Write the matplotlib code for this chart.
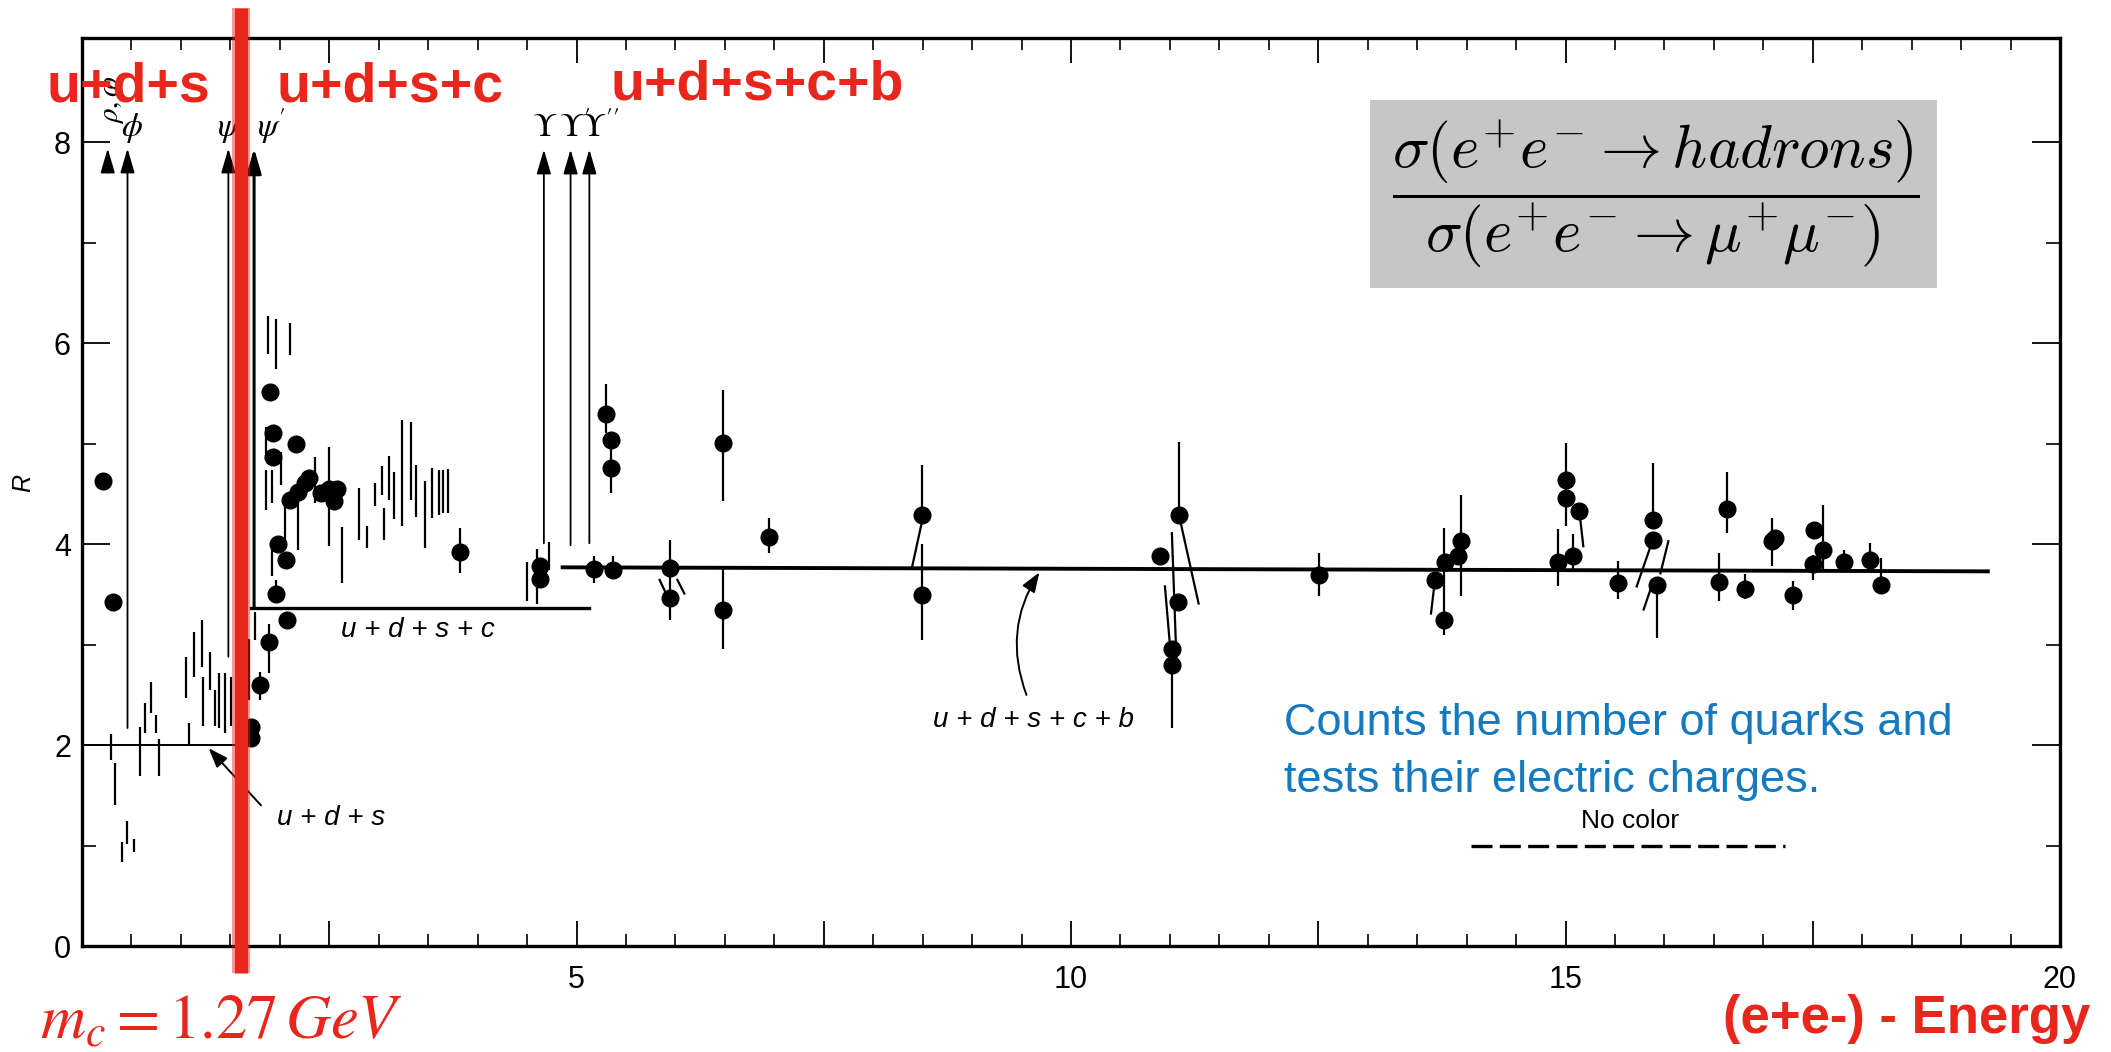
import numpy as np
import matplotlib
matplotlib.use("Agg")
import matplotlib.pyplot as plt
from matplotlib.patches import Rectangle

W, H, DPI = 2111, 1052, 100
plt.rcParams['font.family'] = ['Liberation Sans', 'DejaVu Sans']

# ---------------- data ----------------
# quark-parton plateaus (energy span, R level)
uds_E = [0.0, 1.57]
uds_R = [2.0, 2.0]
udsc_E = [1.71, 5.13]
udsc_R = [3.37, 3.37]
udscb_E = [4.86, 19.27]
udscb_R = [3.77, 3.73]
nocolor_E = [14.04, 17.22]
nocolor_R = [1.0, 1.0]

# narrow resonances: energy, foot and tip of the arrow
res_names = ['rho_omega', 'phi', 'psi', 'psi2', 'ups', 'ups2', 'ups3']
res_E = [0.26, 0.46, 1.48, 1.74, 4.67, 4.94, 5.13]
res_foot = [7.70, 2.17, 2.88, 3.37, 4.01, 3.99, 4.01]
res_tip = [7.94, 7.94, 7.94, 7.94, 7.93, 7.93, 7.93]

# charm threshold marker (beam energy)
charm_E = 1.61

# measured points: energy, R, lower / upper end of the error bar (nan = none)
nan = np.nan
dot_E = [0.21, 0.31, 1.71, 1.71, 1.80, 1.89, 1.96, 2.07, 1.98, 2.06,
         1.90, 1.93, 1.93, 2.16, 2.10, 2.18, 2.25, 2.30, 2.42, 2.50,
         2.58, 2.55, 3.82, 4.63, 4.63, 5.18, 5.37, 5.30, 5.35, 5.35,
         5.95, 5.95, 6.48, 6.48, 6.95, 8.49, 8.49, 10.90, 11.09, 11.08,
         11.02, 11.02, 12.51, 13.68, 13.77, 13.78, 13.91, 13.94, 14.92, 15.08,
         15.01, 15.01, 15.14, 15.53, 15.88, 15.88, 15.93, 16.63, 16.55, 16.82,
         17.09, 17.12, 17.30, 17.51, 17.60, 17.50, 17.82, 18.08, 18.19]
dot_R = [4.63, 3.42, 2.18, 2.07, 2.60, 3.03, 3.50, 3.25, 4.00, 3.84,
         5.52, 5.11, 4.87, 5.00, 4.44, 4.52, 4.61, 4.66, 4.51, 4.55,
         4.55, 4.43, 3.92, 3.78, 3.65, 3.755, 3.74, 5.30, 5.04, 4.76,
         3.76, 3.46, 5.01, 3.35, 4.07, 4.29, 3.49, 3.88, 4.29, 3.42,
         2.96, 2.80, 3.69, 3.645, 3.25, 3.82, 3.88, 4.03, 3.82, 3.88,
         4.64, 4.46, 4.33, 3.61, 4.24, 4.04, 3.59, 4.35, 3.62, 3.55,
         4.03, 4.06, 3.49, 4.14, 3.94, 3.80, 3.82, 3.84, 3.59]
dot_lo = [nan, nan, nan, nan, 2.45, 2.72, 3.41, nan, nan, nan,
          nan, nan, nan, nan, nan, nan, nan, nan, nan, nan,
          nan, nan, 3.71, nan, nan, 3.61, 3.65, 5.11, nan, 4.51,
          3.61, 3.25, 4.43, 2.96, 3.91, 4.29, 3.05, nan, 4.29, nan,
          nan, 2.17, 3.48, nan, 3.10, nan, nan, 3.48, 3.58, 3.73,
          4.18, nan, nan, 3.45, 4.24, nan, 3.07, 4.11, 3.43, 3.45,
          3.78, nan, 3.35, nan, 3.73, 3.64, 3.73, 3.78, 3.58]
dot_hi = [nan, nan, nan, nan, 2.73, 3.21, 3.64, nan, nan, nan,
          nan, nan, nan, nan, nan, nan, nan, nan, nan, nan,
          nan, nan, 4.16, nan, nan, 3.88, 3.88, 5.60, nan, 5.01,
          4.04, 3.61, 5.54, 3.76, 4.26, 4.79, 4.00, nan, 5.02, nan,
          nan, 2.80, 3.91, nan, 4.16, nan, nan, 4.49, 4.15, 4.10,
          5.01, nan, nan, 3.83, 4.81, nan, 3.59, 4.72, 3.91, 3.70,
          4.26, nan, 3.63, nan, 4.39, 3.89, 3.94, 4.01, 3.86]

# error bars drawn without a central point
bar_E = [0.29, 0.33, 0.40, 0.46, 0.53, 0.585, 0.64, 0.70, 0.75, 0.78,
         1.05, 1.08, 1.13, 1.21, 1.22, 1.29, 1.34, 1.39, 1.45, 1.51,
         1.69, 1.75, 1.92, 1.86,
         1.88, 1.96, 2.10, 1.86, 1.92, 2.01, 2.05, 2.18, 2.36, 2.50,
         2.63, 2.80, 2.88, 2.96, 3.03, 3.05, 3.10, 3.15, 3.24, 3.33,
         3.38, 3.47, 3.54, 3.61, 3.65, 3.70, 4.50, 4.72, 4.60]
bar_lo = [1.85, 1.40, 0.84, 1.02, 0.94, 1.69, 2.12, 2.32, 2.12, 1.69,
          2.47, 1.99, 2.68, 2.78, 2.19, 2.55, 2.19, 2.17, 2.12, 2.19,
          2.45, 3.05, 3.68, 4.84,
          5.89, 5.74, 5.88, 4.34, 4.41, 4.59, 4.05, 3.94, 4.41, 3.98,
          3.61, 4.04, 3.96, 4.38, 4.49, 4.04, 4.44, 4.25, 4.18, 4.44,
          4.27, 3.96, 4.26, 4.29, 4.31, 4.31, 3.43, 3.74, 3.40]
bar_hi = [2.11, 1.82, 1.04, 1.24, 1.07, 2.18, 2.42, 2.63, 2.30, 2.06,
          2.88, 2.22, 3.13, 3.25, 2.68, 2.93, 2.55, 2.72, 2.72, 2.68,
          3.06, 3.33, 3.94, 5.17,
          6.27, 6.24, 6.20, 4.74, 4.74, 4.92, 4.48, 4.44, 4.87, 4.97,
          4.17, 4.56, 4.18, 4.61, 4.78, 4.36, 4.88, 4.72, 5.24, 5.22,
          4.79, 4.63, 4.76, 4.74, 4.74, 4.75, 3.82, 4.02, 3.95]

# tilted error bars (points shifted for clarity): start and end
slant_E0 = [5.84, 6.02, 8.49, 11.11, 11.02, 10.95, 13.68, 15.14, 15.86, 16.04, 15.87]
slant_R0 = [3.645, 3.645, 4.21, 4.21, 4.11, 3.58, 3.645, 4.33, 3.98, 4.03, 3.58]
slant_E1 = [5.91, 6.09, 8.39, 11.29, 11.07, 11.00, 13.64, 15.18, 15.72, 15.96, 15.79]
slant_R1 = [3.50, 3.51, 3.76, 3.41, 2.75, 3.00, 3.31, 3.98, 3.58, 3.71, 3.35]

x_major = [0, 2.5, 5, 7.5, 10, 12.5, 15, 17.5, 20]
x_labels = ['', '', '5', '', '10', '', '15', '', '20']
y_major = [0, 2, 4, 6, 8]
y_labels = ['0', '2', '4', '6', '8']

RED = '#E8261C'
BLUE = '#1479BF'

# ---------------- figure ----------------
fig = plt.figure(figsize=(W / DPI, H / DPI), dpi=DPI)
ax = fig.add_axes([82 / W, 1 - 946 / H, (2060 - 82) / W, (946 - 38) / H])
ax.set_xlim(0, 20)
ax.set_ylim(0, 9.04)

ax.set_xticks(x_major)
ax.set_xticklabels(x_labels)
ax.set_xticks(np.arange(0, 20.01, 0.5), minor=True)
ax.set_yticks(y_major)
ax.set_yticklabels(y_labels)
ax.set_yticks([1, 3, 5, 7], minor=True)
ax.tick_params(axis='x', which='major', direction='in', length=18, width=1.3,
               top=True, pad=14, labelsize=22)
ax.tick_params(axis='x', which='minor', direction='in', length=8.5, width=1.2, top=True)
ax.tick_params(axis='y', which='major', direction='in', length=20, width=1.3,
               right=True, pad=8, labelsize=22)
ax.tick_params(axis='y', which='minor', direction='in', length=10, width=1.2, right=True)
for sp in ax.spines.values():
    sp.set_linewidth(2.4)

# plateaus
ax.plot(uds_E, uds_R, color='black', lw=1.4, zorder=3)
ax.plot(udsc_E, udsc_R, color='black', lw=2.4, zorder=3)
ax.plot(udscb_E, udscb_R, color='black', lw=2.8, zorder=3)
ax.plot(nocolor_E, nocolor_R, color='black', lw=2.4, dashes=(6.3, 2.2), zorder=3)

# resonance arrows
for name, e, foot, tip in zip(res_names, res_E, res_foot, res_tip):
    lw = 2.2 if name == 'psi2' else 1.3
    ax.annotate('', xy=(e, tip), xytext=(e, foot),
                arrowprops=dict(arrowstyle='-|>,head_length=0.75,head_width=0.22',
                                lw=lw, color='black', mutation_scale=20,
                                shrinkA=0, shrinkB=0), zorder=3)

# resonance labels
res_font = dict(fontsize=24, math_fontfamily='stix', color='black', va='baseline', ha='left')
ax.text(0.30, 8.42, r'$\rho,\omega$', rotation=90, ha='center', va='center',
        fontsize=21, math_fontfamily='stix')
ax.text(0.39, 8.06, r'$\phi$', **res_font)
ax.text(1.37, 8.06, r'$\psi$', **res_font)
ax.text(1.77, 8.06, r"$\psi'$", **res_font)
ax.text(4.55, 8.06, r'$\Upsilon$', **res_font)
ax.text(4.82, 8.06, r"$\Upsilon'$", **res_font)
ax.text(5.05, 8.06, r"$\Upsilon''$", **res_font)

# error bars and points
bE = np.array(bar_E); bl = np.array(bar_lo); bh = np.array(bar_hi)
ax.vlines(bE, bl, bh, color='black', lw=1.6, zorder=3)
dE = np.array(dot_E); dl = np.array(dot_lo); dh = np.array(dot_hi)
has_bar = np.isfinite(dl) & np.isfinite(dh)
ax.vlines(dE[has_bar], dl[has_bar], dh[has_bar], color='black', lw=1.6, zorder=3)
for e0, r0, e1, r1 in zip(slant_E0, slant_R0, slant_E1, slant_R1):
    ax.plot([e0, e1], [r0, r1], color='black', lw=1.6, zorder=3)
ax.plot(dot_E, dot_R, 'o', ms=12, color='black', mec='black', zorder=4)

# plateau labels
lab = dict(style='italic', fontsize=20, ha='center', va='center', color='black')
ax.text(2.52, 1.27, 'u + d + s', **lab)
ax.text(3.40, 3.15, 'u + d + s + c', **lab)
ax.text(9.62, 2.25, 'u + d + s + c + b', **lab)
ax.annotate('', xy=(1.28, 1.97), xytext=(1.81, 1.40),
            arrowprops=dict(arrowstyle='-|>,head_length=0.6,head_width=0.22',
                            lw=1.4, color='black', mutation_scale=20,
                            shrinkA=0, shrinkB=0))
ax.annotate('', xy=(9.68, 3.72), xytext=(9.55, 2.50),
            arrowprops=dict(arrowstyle='-|>,head_length=0.6,head_width=0.22',
                            lw=1.4, color='black', mutation_scale=20,
                            connectionstyle='arc3,rad=-0.25',
                            shrinkA=0, shrinkB=0))

# charm threshold line (soft edge under a solid core)
ax.plot([charm_E, charm_E], [-0.27, 9.34], color=RED, lw=13, alpha=0.45,
        clip_on=False, zorder=10, solid_capstyle='butt')
ax.plot([charm_E, charm_E], [-0.27, 9.34], color=RED, lw=9.5, clip_on=False,
        zorder=10, solid_capstyle='butt')

# annotations around the frame
def fx(px):
    return px / W

def fy(py):
    return 1 - py / H

fig.text(fx(23), fy(483), 'R', style='italic', rotation=90, fontsize=18,
         ha='center', va='center')
red_lab = dict(color=RED, fontsize=40, fontweight='bold', ha='left', va='baseline')
fig.text(fx(47), fy(101), 'u+d+s', **red_lab)
fig.text(fx(277), fy(101), 'u+d+s+c', **red_lab)
fig.text(fx(610), fy(99), 'u+d+s+c+b', **red_lab)
fig.text(fx(40), fy(1038), r'$m_c = 1.27\,GeV$', color=RED, fontsize=45,
         math_fontfamily='stix', ha='left', va='baseline')
fig.text(fx(2090), fy(1033), '(e+e-) - Energy', color=RED, fontsize=38,
         fontweight='bold', ha='right', va='baseline')

fig.add_artist(Rectangle((fx(1370), fy(288)), (1937 - 1370) / W, (288 - 100) / H,
                         transform=fig.transFigure, facecolor='#C6C6C6',
                         edgecolor='none', zorder=1))
fig.text(fx(1656), fy(194),
         r'$\dfrac{\sigma(e^{+}e^{-} \rightarrow hadrons)}{\sigma(e^{+}e^{-} \rightarrow \mu^{+}\mu^{-})}$',
         fontsize=44, math_fontfamily='cm', ha='center', va='center', zorder=2)

fig.text(fx(1284), fy(735), 'Counts the number of quarks and', color=BLUE,
         fontsize=32.5, ha='left', va='baseline')
fig.text(fx(1284), fy(792), 'tests their electric charges.', color=BLUE,
         fontsize=32.5, ha='left', va='baseline')
fig.text(fx(1630), fy(828), 'No color', fontsize=19, ha='center', va='baseline')

fig.savefig('out.png', dpi=DPI)
